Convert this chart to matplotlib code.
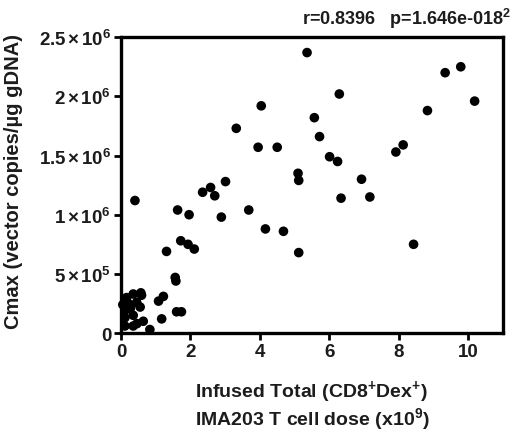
import matplotlib
matplotlib.use("Agg")
import matplotlib.pyplot as plt

plt.rcParams['font.family'] = 'Liberation Sans'
plt.rcParams['font.weight'] = 'bold'
plt.rcParams['mathtext.fontset'] = 'custom'
plt.rcParams['mathtext.rm'] = 'Liberation Sans:bold'
plt.rcParams['mathtext.it'] = 'Liberation Sans:bold'
plt.rcParams['mathtext.bf'] = 'Liberation Sans:bold'

# infused CD8+Dex+ dose (x10^9) and peak vector copies per ug gDNA (x10^6)
dose = [5.36, 9.79, 9.34, 6.29, 10.19, 4.04, 8.83, 5.57, 3.32, 5.72,
        8.13, 3.95, 4.50, 7.92, 6.01, 6.24, 5.10, 6.93, 5.12, 3.01,
        2.58, 2.35, 2.70, 7.17, 6.34, 0.40, 1.63, 3.68, 1.96, 2.89,
        4.16, 4.68, 1.72, 1.93, 8.43, 2.11, 1.31, 5.12, 1.56, 1.58,
        1.22, 1.08, 1.60, 1.74, 1.17, 0.83,
        0.16, 0.35, 0.57, 0.59, 0.21, 0.45, 0.11, 0.55, 0.35, 0.64,
        0.11, 0.35, 0.11, 0.27, 0.05, 0.46]
cmax = [2.37, 2.25, 2.20, 2.02, 1.96, 1.92, 1.88, 1.82, 1.73, 1.66,
        1.59, 1.57, 1.57, 1.53, 1.49, 1.45, 1.35, 1.30, 1.29, 1.28,
        1.23, 1.19, 1.16, 1.15, 1.14, 1.12, 1.04, 1.04, 1.00, 0.98,
        0.88, 0.86, 0.78, 0.75, 0.75, 0.71, 0.69, 0.68, 0.47, 0.44,
        0.31, 0.27, 0.18, 0.18, 0.12, 0.03,
        0.30, 0.33, 0.34, 0.32, 0.25, 0.26, 0.19, 0.22, 0.15, 0.10,
        0.13, 0.06, 0.06, 0.21, 0.24, 0.08]
cmax = [v * 1e6 for v in cmax]

xticks = [0, 2, 4, 6, 8, 10]
yticks = [0, 5e5, 1e6, 1.5e6, 2e6, 2.5e6]
ytick_labels = ['0', r'$5\,{\times}\,10^{5}$', r'$1\,{\times}\,10^{6}$',
                r'$1.5\,{\times}\,10^{6}$', r'$2\,{\times}\,10^{6}$', r'$2.5\,{\times}\,10^{6}$']

txt = '#1c1c1c'

fig = plt.figure(figsize=(5.13, 4.39), dpi=100)
ax = fig.add_axes([0.236, 0.239, 0.744, 0.674])

ax.scatter(dose, cmax, s=48, color='black', edgecolors='none', clip_on=False, zorder=3)

ax.set_xlim(0, 11)
ax.set_ylim(0, 2.5e6)
ax.set_xticks(xticks)
ax.set_xticklabels([str(t) for t in xticks], fontsize=13.5, color=txt)
ax.set_yticks(yticks)
ax.set_yticklabels(ytick_labels, fontsize=13.5, color=txt)

for s in ax.spines.values():
    s.set_linewidth(2.4)
ax.tick_params(direction='out', length=5, width=2, pad=2)

# two-line x label, each line placed on its own
fig.text(0.608, 0.107, 'Infused Total (CD8$^{+}$Dex$^{+}$)', ha='center', va='center',
         fontsize=14, fontweight='bold', color=txt)
fig.text(0.608, 0.045, 'IMA203 T cell dose (x10$^{9}$)', ha='center', va='center',
         fontsize=14, fontweight='bold', color=txt)
ax.set_ylabel('Cmax (vector copies/\u00b5g gDNA)', fontsize=14.5, fontweight='bold', color=txt)
ax.yaxis.set_label_coords(-0.257, 0.514)

fig.text(0.995, 0.957, 'r=0.8396   p=1.646e-018$^{2}$', ha='right', va='center',
         fontsize=13, color=txt)

fig.savefig('out.png', dpi=100)
